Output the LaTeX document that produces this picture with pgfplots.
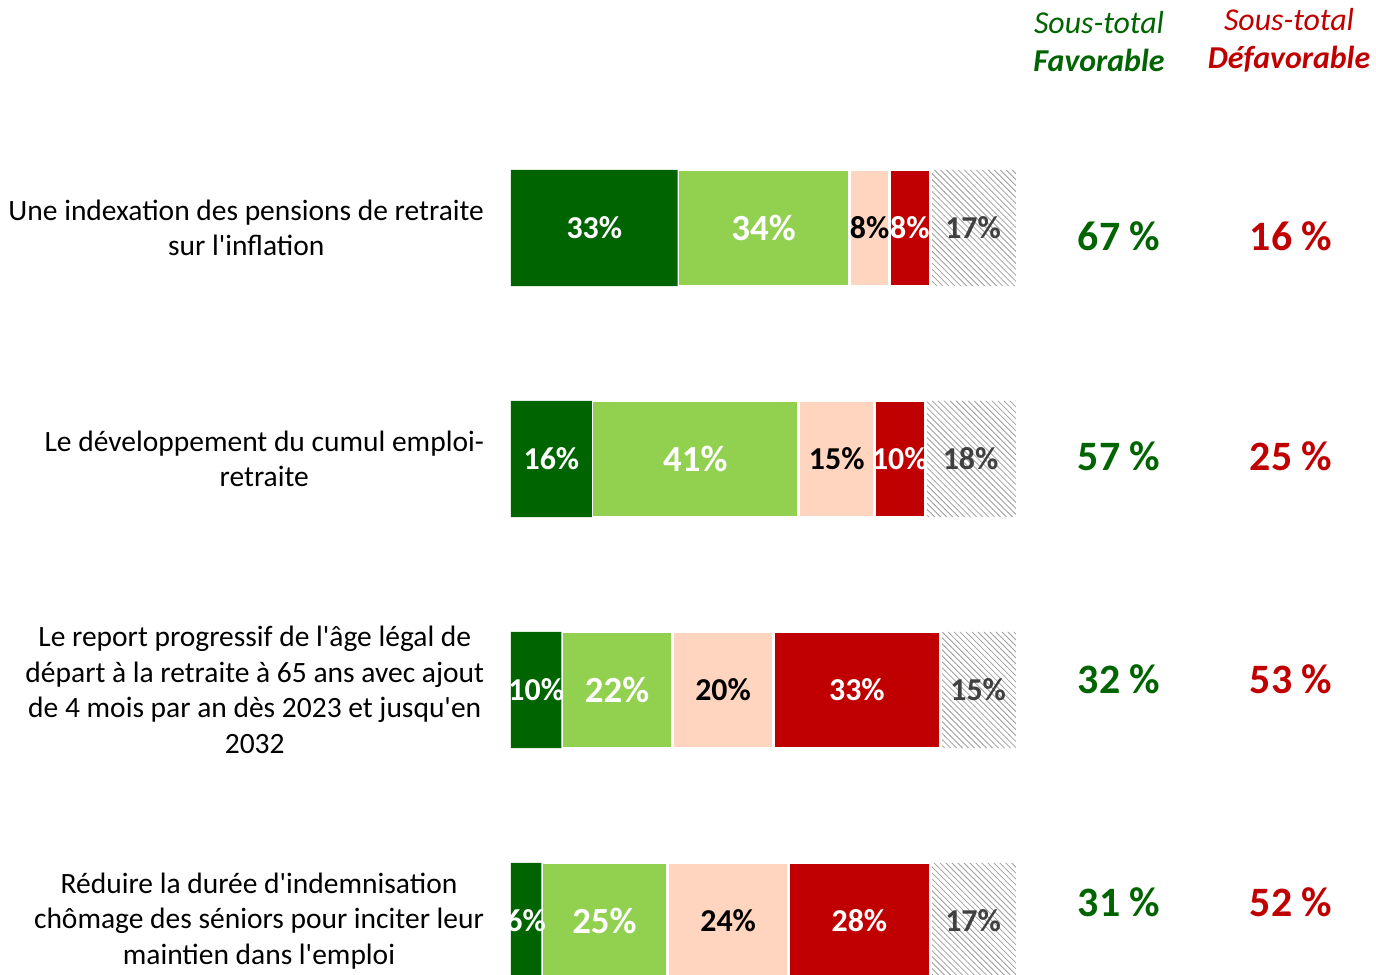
\documentclass[border=0pt]{standalone}
\usepackage{fontspec}
\setmainfont{Carlito}[Ligatures=TeXOff]
\usepackage{pgfplots}
\pgfplotsset{compat=1.18}
\usepackage{pgfplotstable}
\usetikzlibrary{patterns}
\definecolor{dgreen}{RGB}{0,100,0}
\definecolor{lgreen}{RGB}{146,208,80}
\definecolor{peach}{RGB}{255,213,192}
\definecolor{dred}{RGB}{192,0,0}
\definecolor{dgray}{RGB}{64,64,64}
\pgfplotstableread{
y dg lg pe rd na fav def
0 33 34 8 8 17 67 16
1 16 41 15 10 18 57 25
2 10 22 20 33 15 32 53
3 6 25 24 28 17 31 52
}\data
\pgfplotsset{
  seglabel/.style 2 args={
    visualization depends on=rawx \as \rawv,
    nodes near coords={\pgfmathprintnumber[assume math mode=true]{\rawv}\%},
    every node near coord/.style={anchor=center, inner sep=0pt, text=#1,
      font=\bfseries\fontsize{#2}{#2}\selectfont},
  }
}
\begin{document}
\begin{tikzpicture}
\begin{axis}[
  xbar stacked,
  scale only axis,
  width=252.5bp, height=462bp,
  xmin=0, xmax=100, ymin=-0.5, ymax=3.5,
  y dir=reverse,
  bar width=58bp,
  hide x axis,
  axis y line*=left,
  y axis line style={draw=none},
  ytick={0,1,2,3},
  major tick length=0pt,
  yticklabels={{Une indexation des pensions de retraite\\sur l'inflation},
               {Le développement du cumul emploi-\\retraite},
               {Le report progressif de l'âge légal de\\départ à la retraite à 65 ans avec ajout\\de 4 mois par an dès 2023 et jusqu'en\\2032},
               {Réduire la durée d'indemnisation\\chômage des séniors pour inciter leur\\maintien dans l'emploi}},
  yticklabel style={align=center, font=\fontsize{14.8}{17.8}\selectfont, text=black, xshift=-10bp},
  clip=false,
]
\addplot[fill=dgreen, draw=none, seglabel={white}{16}] table[x=dg, y=y]{\data};
\addplot[fill=lgreen, draw=white, line width=1.5bp, seglabel={white}{18.5}] table[x=lg, y=y]{\data};
\addplot[fill=peach, draw=white, line width=1.5bp, seglabel={black}{16}] table[x=pe, y=y]{\data};
\addplot[fill=dred, draw=white, line width=1.5bp, seglabel={white}{16}] table[x=rd, y=y]{\data};
\addplot[pattern=north west lines, pattern color=gray!75, draw=none, seglabel={dgray}{16}] table[x=na, y=y]{\data};

\coordinate (TL) at (axis cs:0,-0.5);
% subtotals
\tikzset{fav/.style={font=\bfseries\fontsize{21}{21}\selectfont, text=dgreen, anchor=base, inner sep=0pt, xshift=51.5bp},
         def/.style={font=\bfseries\fontsize{21}{21}\selectfont, text=dred, anchor=base, inner sep=0pt, xshift=137.5bp}}
\node[fav, yshift=-11bp] at (axis cs:100,0) {67 \%};
\node[fav, yshift=-5.5bp] at (axis cs:100,1) {57 \%};
\node[fav, yshift=-1.5bp] at (axis cs:100,2) {32 \%};
\node[fav, yshift=2.5bp] at (axis cs:100,3) {31 \%};
\node[def, yshift=-11bp] at (axis cs:100,0) {16 \%};
\node[def, yshift=-5.5bp] at (axis cs:100,1) {25 \%};
\node[def, yshift=-1.5bp] at (axis cs:100,2) {53 \%};
\node[def, yshift=2.5bp] at (axis cs:100,3) {52 \%};
% headers
\node[anchor=base, inner sep=0pt, text=dgreen, font=\itshape\fontsize{16}{16}\selectfont, xshift=41.5bp, yshift=39.75bp] at (axis cs:100,-0.5) {Sous-total};
\node[anchor=base, inner sep=0pt, text=dgreen, font=\bfseries\itshape\fontsize{16}{16}\selectfont, xshift=41.5bp, yshift=20.75bp] at (axis cs:100,-0.5) {Favorable};
\node[anchor=base, inner sep=0pt, text=dred, font=\itshape\fontsize{16}{16}\selectfont, xshift=136.5bp, yshift=40.75bp] at (axis cs:100,-0.5) {Sous-total};
\node[anchor=base, inner sep=0pt, text=dred, font=\bfseries\itshape\fontsize{16}{16}\selectfont, xshift=136.5bp, yshift=22.25bp] at (axis cs:100,-0.5) {Défavorable};
\end{axis}
\pgfresetboundingbox
\path[use as bounding box] ([shift={(-255.5bp,56.25bp)}]TL) rectangle ([shift={(432.5bp,-431.25bp)}]TL);
\end{tikzpicture}
\end{document}
